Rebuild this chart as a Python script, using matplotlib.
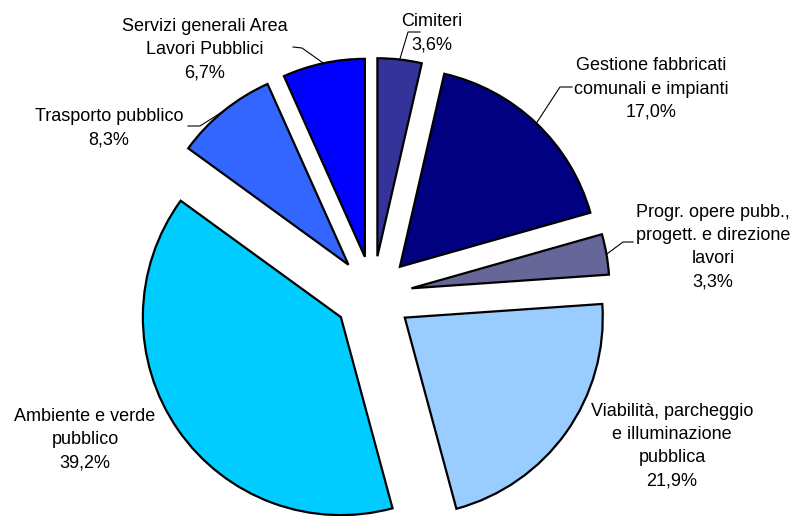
import numpy as np
import matplotlib
matplotlib.use("Agg")
import matplotlib.pyplot as plt

plt.rcParams['font.family'] = ['Liberation Sans', 'DejaVu Sans']

labels = ["Cimiteri", "Gestione fabbricati\ncomunali e impianti",
          "Progr. opere pubb.,\nprogett. e direzione\nlavori",
          "Viabilità, parcheggio\ne illuminazione\npubblica",
          "Ambiente e verde\npubblico", "Trasporto pubblico",
          "Servizi generali Area\nLavori Pubblici"]
values = [3.6, 17.0, 3.3, 21.9, 39.2, 8.3, 6.7]
colors = ["#333399", "#000080", "#666699", "#99CCFF", "#00CCFF", "#3366FF", "#0000FF"]

W, H = 798, 516
fig = plt.figure(figsize=(W / 100, H / 100), dpi=100)
ax = fig.add_axes([0, 0, 1, 1])

# explode is in data units (pixels here)
wedges, _ = ax.pie(values, explode=[39] * len(values), colors=colors,
                   startangle=90, counterclock=False, radius=198,
                   center=(373, H - 295),
                   wedgeprops=dict(edgecolor='black', linewidth=1.6))

# label block centre (x, y from top) and leader text end / elbow (None = no leader)
label_pos = [(432, 33), (651, 89), (713, 247), (672, 446), (85, 440), (109, 128), (205, 50)]
leaders = [((420, 32), (408, 32)), ((572, 87), (560, 87)), ((633, 242), (623, 242)),
           None, None, ((188, 126), (200, 126)), ((293, 47), (302, 48))]

for w, lab, v, pos, ld in zip(wedges, labels, values, label_pos, leaders):
    txt = lab + "\n" + f"{v:.1f}".replace(".", ",") + "%"
    ax.text(pos[0], H - pos[1], txt, ha='center', va='center', multialignment='center',
            fontsize=13, linespacing=1.47, color='black')
    if ld is not None:
        mid = np.deg2rad((w.theta1 + w.theta2) / 2)
        cx, cy = w.center
        ax_pt = (cx + w.r * np.cos(mid), cy + w.r * np.sin(mid))
        xs = [ld[0][0], ld[1][0], ax_pt[0]]
        ys = [H - ld[0][1], H - ld[1][1], ax_pt[1]]
        ax.plot(xs, ys, color='black', linewidth=0.8)

ax.set_xlim(0, W)
ax.set_ylim(0, H)
ax.set_aspect('equal')
ax.axis('off')

fig.savefig("out.png", dpi=100, facecolor='white')
